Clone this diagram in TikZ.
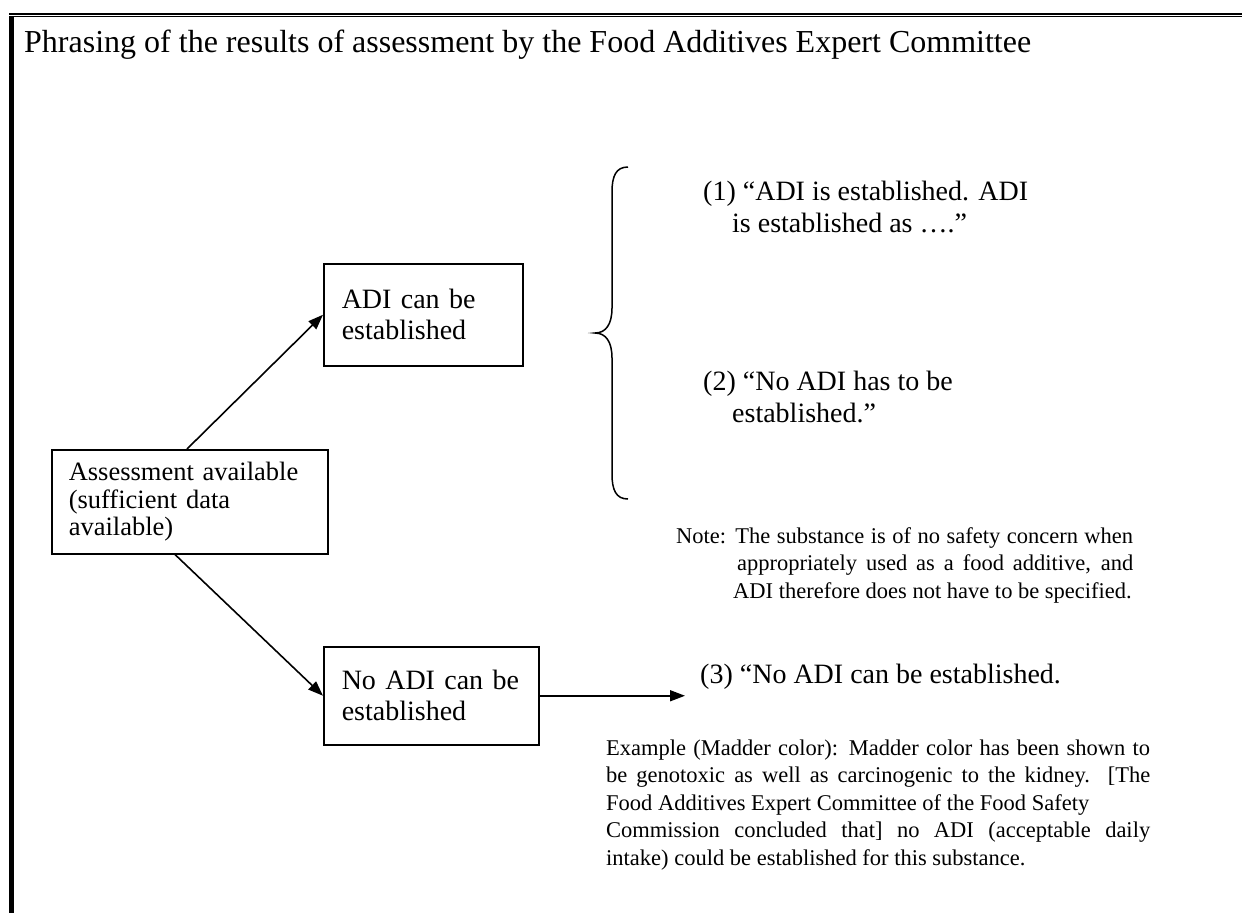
\documentclass[tikz,border=0pt]{standalone}
\usepackage{fontspec}
\setmainfont{Liberation Serif}
\usetikzlibrary{arrows.meta,calc}
\begin{document}
\begin{tikzpicture}[x=1pt,y=-1pt,
  box/.style={draw,line width=1.5pt,anchor=north west,align=left,inner sep=0pt},
  arr/.style={line width=1.6pt,-{Triangle[length=15pt,width=11pt]}},
  txt/.style={anchor=base west,inner sep=0pt,align=left},
  big/.style={font=\fontsize{28}{32}\selectfont},
  small/.style={font=\fontsize{22.5}{27.5}\selectfont}]
\useasboundingbox (0,0) rectangle (1242,913);
% frame
\fill (9,12.5) rectangle (1242,14.5);
\fill (9,15.7) rectangle (1242,16.7);
\fill (9.3,15.7) rectangle (14,913);
% title
\node[txt,font=\fontsize{32}{36}\selectfont] (title) at (24,52) {Phrasing of the results of assessment by the Food Additives Expert Committee};
% boxes
\node[box,minimum width=276pt,minimum height=104pt,text width=242pt,font=\fontsize{26.5}{27.5}\selectfont] (assess) at (51,449) {Assessment available\\(sufficient data\\available)};
\node[box,minimum width=199pt,minimum height=102pt,text width=163pt,font=\fontsize{28}{31}\selectfont] (adi) at (323,263) {ADI can be\\established};
\node[box,minimum width=215pt,minimum height=98pt,text width=179pt,font=\fontsize{28}{31}\selectfont] (noadi) at (323,646) {No ADI can be\\established};
% arrows
\coordinate (tip3) at (685,695);
\draw[arr] ([xshift=136pt]assess.north west) -- (adi.west);
\draw[arr] ([xshift=124pt]assess.south west) -- (noadi.west);
\draw[arr] (noadi.east) -- (noadi.east -| tip3);
% brace
\draw[line width=1.5pt] (628,167) .. controls (616,167) and (612,176) .. (612,192)
  -- (612,308) .. controls (612,324) and (606,333) .. (595,333)
  .. controls (606,333) and (612,342) .. (612,358)
  -- (612,474) .. controls (612,490) and (616,499) .. (628,499);
% results (base anchor = baseline of last line)
\node[txt,big] (r1) at (703,232) {(1) “ADI is established. ADI\\\hspace*{29pt}is established as ….”};
\node[txt,big] (r2) at (703,422) {(2) “No ADI has to be\\\hspace*{29pt}established.”};
\node[txt,big] (r3) at (700,683) {(3) “No ADI can be established.};
% note
\node[txt,small] (note) at (676,598) {\makebox[457pt][s]{Note: The substance is of no safety concern when}\\\hspace*{61pt}\makebox[396pt][s]{appropriately used as a food additive, and}\\\hspace*{57pt}ADI therefore does not have to be specified.};
% example
\node[txt,small] (example) at (606,865) {\makebox[544pt][s]{Example (Madder color): Madder color has been shown to}\\\makebox[544pt][s]{be genotoxic as well as carcinogenic to the kidney. [The}\\Food Additives Expert Committee of the Food Safety\\\makebox[544pt][s]{Commission concluded that] no ADI (acceptable daily}\\intake) could be established for this substance.};
\end{tikzpicture}
\end{document}
